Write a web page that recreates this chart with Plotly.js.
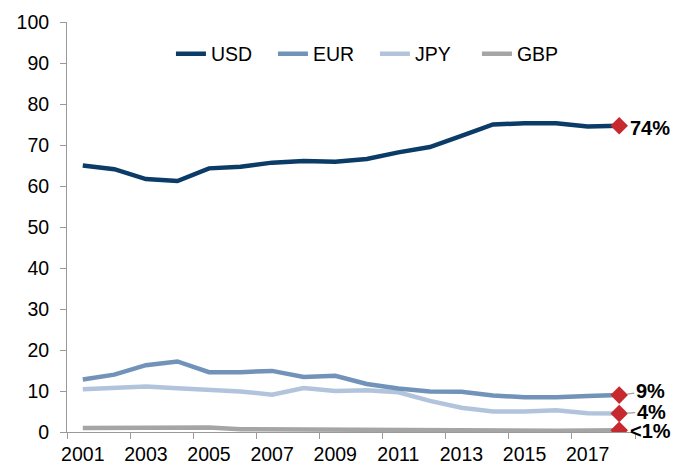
<!DOCTYPE html>
<html>
<head>
<meta charset="utf-8">
<script src="https://cdn.plot.ly/plotly-3.0.1.min.js"></script>
<style>html,body{margin:0;padding:0;background:#fff;}#chart{width:686px;height:466px;}</style>
</head>
<body>
<div id="chart"></div>
<script>
// Data
var years = [2001,2002,2003,2004,2005,2006,2007,2008,2009,2010,2011,2012,2013,2014,2015,2016,2017,2018];
var usd = [65.0,64.1,61.7,61.2,64.3,64.7,65.7,66.1,65.9,66.6,68.2,69.5,72.2,75.0,75.3,75.3,74.5,74.7];
var eur = [12.8,14.0,16.3,17.2,14.6,14.6,14.9,13.4,13.7,11.7,10.6,9.9,9.8,8.9,8.5,8.5,8.8,9.0];
var jpy = [10.4,10.8,11.1,10.7,10.2,9.9,9.1,10.7,10.0,10.2,9.7,7.6,5.9,5.0,5.0,5.3,4.6,4.5];
var gbp = [1.0,1.0,1.2,1.2,1.1,0.7,0.65,0.5,0.55,0.5,0.45,0.45,0.4,0.45,0.4,0.3,0.35,0.4];
var seriesNames = ['USD','EUR','JPY','GBP'];
var endLabels = ['74%','9%','4%','<1%'];
var yTickVals = [0,10,20,30,40,50,60,70,80,90,100];
var xTickVals = [2001,2003,2005,2007,2009,2011,2013,2015,2017];

var FONT = 'Liberation Sans, Arial, sans-serif';
var colors = ['#0b3c68','#7293b9','#b2c4dc','#a5a5a5'];
var allSeries = [usd, eur, jpy, gbp];

var traces = allSeries.map(function(s, i){
  return {x: years, y: s, name: seriesNames[i], type: 'scatter', mode: 'lines',
          line: {color: colors[i], width: 4.5}, hoverinfo: 'skip'};
});
// draw in reverse so USD on top
traces = traces.slice().reverse();

var lastX = years[years.length-1];
var lastY = allSeries.map(function(s){ return s[s.length-1]; });
traces.push({x: lastY.map(function(){return lastX;}), y: lastY, type: 'scatter', mode: 'markers',
  showlegend: false, hoverinfo: 'skip',
  marker: {symbol: 'diamond', size: 13.5, color: '#c62a2f', line: {width: 0}}});

var labelOffsets = [[31, 2, false],[31, -4, true],[32, -2, true],[31, 1, false]];
var annotations = endLabels.map(function(t, i){
  var o = labelOffsets[i];
  return {x: lastX, y: lastY[i], xref: 'x', yref: 'y', text: '<b>' + t + '</b>',
    showarrow: o[2], ax: o[0], ay: o[1], arrowhead: 0, arrowwidth: 1.2, arrowcolor: '#a0a0a0',
    standoff: 8, xanchor: o[2] ? undefined : 'center', yanchor: o[2] ? undefined : 'middle',
    xshift: o[2] ? 0 : o[0], yshift: o[2] ? 0 : -o[1],
    font: {family: FONT, size: 20, color: '#000'}};
});

var layout = {
  width: 686, height: 466,
  margin: {l: 67, r: 51, t: 22, b: 34, pad: 0},
  paper_bgcolor: '#fff', plot_bgcolor: '#fff',
  font: {family: FONT, size: 19.5, color: '#000'},
  showlegend: true,
  legend: {orientation: 'h', x: 0.183, xanchor: 'left', y: 0.922, yanchor: 'middle',
           font: {family: FONT, size: 19.5, color: '#000'}, traceorder: 'reversed',
           bgcolor: 'rgba(0,0,0,0)', itemclick: false, entrywidth: 57, entrywidthmode: 'pixels'},
  xaxis: {range: [2000.5, 2018.5], tickmode: 'array', tickvals: xTickVals,
          ticktext: xTickVals.map(String), ticks: '', showgrid: false, zeroline: false,
          showline: true, linecolor: '#9a9a9a', linewidth: 1, ticklabelstandoff: 5,
          minor: {tickmode: 'linear', tick0: 2000.5, dtick: 2, ticks: 'outside', ticklen: 6,
                  tickcolor: '#9a9a9a', tickwidth: 1, showgrid: false},
          tickfont: {family: FONT, size: 19.5, color: '#000'}, fixedrange: true},
  yaxis: {range: [0, 100], tickmode: 'array', tickvals: yTickVals, ticks: 'outside', ticklen: 6,
          tickcolor: '#9a9a9a', tickwidth: 1, showgrid: false, zeroline: false, showline: true,
          linecolor: '#9a9a9a', linewidth: 1, ticklabelstandoff: 7,
          tickfont: {family: FONT, size: 19.5, color: '#000'}, fixedrange: true},
  annotations: annotations
};

Plotly.newPlot('chart', traces, layout, {displayModeBar: false, staticPlot: true});
</script>
</body>
</html>
